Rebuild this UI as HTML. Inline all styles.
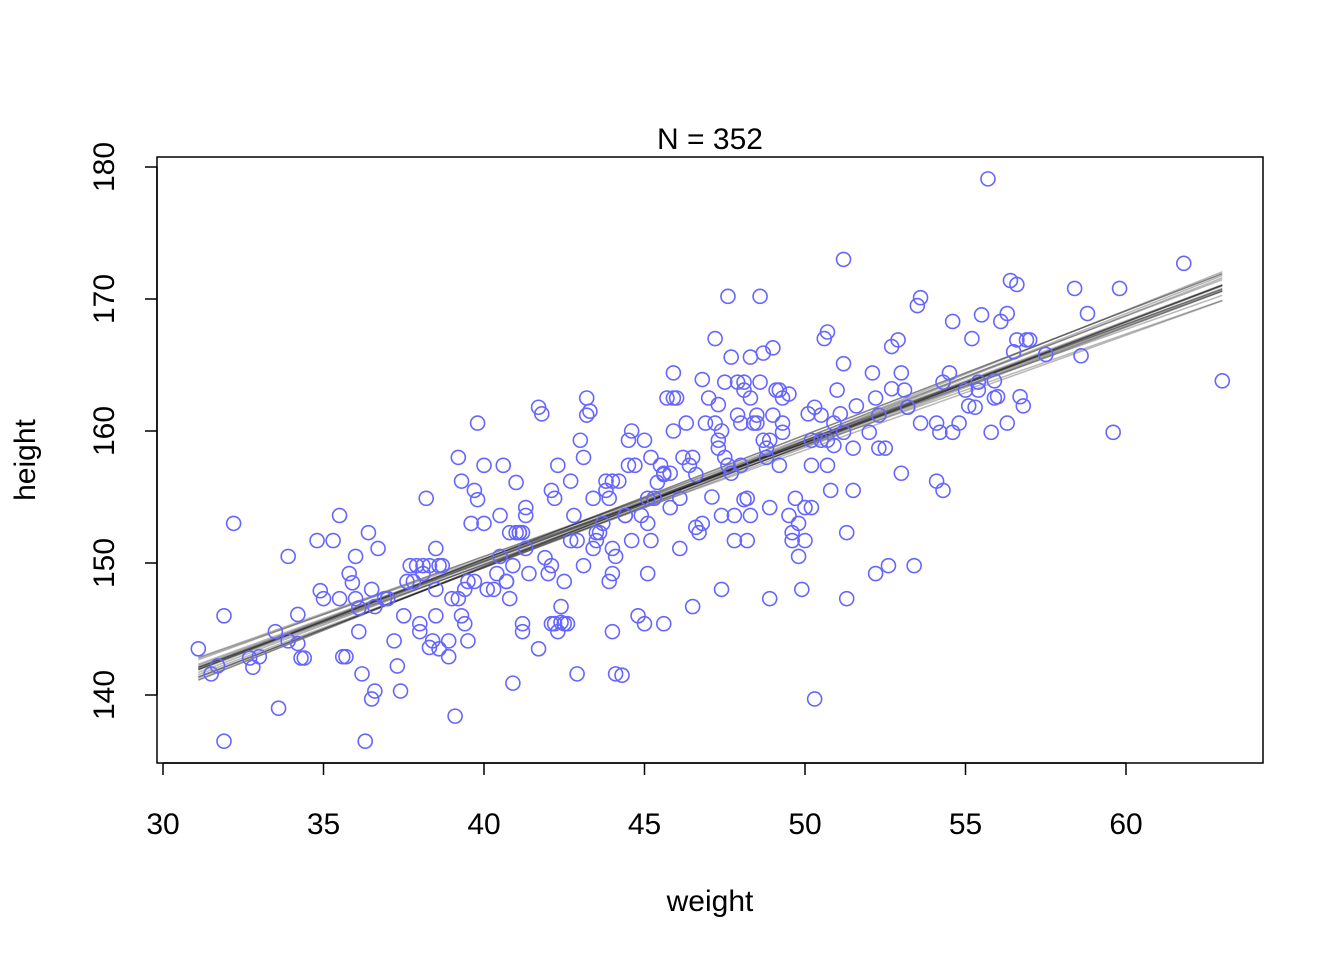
<!DOCTYPE html>
<html><head><meta charset="utf-8"><style>
html,body{margin:0;padding:0;background:#fff;}
svg{display:block;font-family:"Liberation Sans",Arial,sans-serif;}
</style></head><body>
<svg id="chart" width="1344" height="960" viewBox="0 0 1344 960" xmlns="http://www.w3.org/2000/svg">
<rect x="0" y="0" width="1344" height="960" fill="#fff"/>
<text x="710" y="149" font-size="30" text-anchor="middle">N = 352</text>
<text x="710" y="911" font-size="30" text-anchor="middle">weight</text>
<text x="0" y="0" font-size="30" text-anchor="middle" transform="translate(35,460) rotate(-90)">height</text>
<g id="lines"></g>
<g id="points"></g>
<g id="xaxis"></g>
<g id="yaxis"></g>
<rect x="157" y="157" width="1106" height="606" fill="none" stroke="#000" stroke-width="1.5"/>
</svg>
<script>
const xTicks=[30,35,40,45,50,55,60];
const yTicks=[140,150,160,170,180];
const weights=[31.1,31.5,31.7,31.9,31.9,32.2,32.7,32.8,33.0,33.5,33.6,33.9,33.9,34.2,34.2,34.3,34.4,34.8,34.9,35.0,35.3,35.5,35.5,35.6,35.7,35.8,35.9,36.0,36.0,36.1,36.1,36.2,36.3,36.4,36.5,36.5,36.6,36.6,36.7,36.9,37.0,37.2,37.3,37.4,37.6,37.5,37.7,37.8,37.9,38.0,38.0,38.1,38.1,38.2,38.3,38.3,38.4,38.5,38.5,38.5,38.6,38.6,38.7,38.9,38.9,39.0,39.1,39.2,39.2,39.3,39.3,39.4,39.4,39.5,39.5,39.6,39.7,39.7,39.8,39.8,40.0,40.0,40.1,40.3,40.4,40.5,40.5,40.6,40.7,40.7,40.8,40.8,40.9,40.9,41.0,41.0,41.1,41.1,41.2,41.2,41.2,41.3,41.3,41.3,41.4,41.7,41.7,41.8,41.9,42.0,42.1,42.1,42.1,42.2,42.2,42.3,42.3,42.4,42.4,42.5,42.5,42.6,42.7,42.7,42.8,42.9,42.9,43.0,43.1,43.1,43.2,43.2,43.3,43.4,43.4,43.5,43.5,43.6,43.7,43.8,43.8,43.9,43.9,44.0,44.0,44.0,44.0,44.1,44.1,44.2,44.3,44.4,44.4,44.5,44.5,44.6,44.6,44.7,44.8,44.9,45.0,45.0,45.1,45.1,45.1,45.2,45.2,45.3,45.4,45.5,45.6,45.6,45.6,45.7,45.8,45.8,45.9,45.9,45.9,46.0,46.1,46.1,46.2,46.3,46.4,46.5,46.5,46.6,46.6,46.7,46.8,46.8,46.9,47.0,47.1,47.2,47.2,47.3,47.3,47.3,47.4,47.4,47.4,47.5,47.5,47.6,47.6,47.7,47.7,47.8,47.8,47.9,47.9,48.0,48.0,48.1,48.1,48.1,48.2,48.2,48.3,48.3,48.3,48.4,48.5,48.5,48.6,48.6,48.7,48.7,48.8,48.8,48.9,48.9,48.9,49.0,49.0,49.1,49.2,49.2,49.3,49.3,49.3,49.5,49.5,49.6,49.6,49.7,49.8,49.8,49.9,50.0,50.0,50.1,50.2,50.2,50.2,50.3,50.3,50.5,50.5,50.6,50.7,50.7,50.7,50.8,50.9,50.9,51.0,51.1,51.2,51.2,51.2,51.3,51.3,51.5,51.5,51.6,52.0,52.1,52.2,52.2,52.3,52.3,52.5,52.6,52.7,52.7,52.9,53.0,53.0,53.1,53.2,53.2,53.4,53.5,53.6,53.6,54.1,54.1,54.2,54.3,54.3,54.5,54.6,54.6,54.8,55.0,55.1,55.2,55.3,55.4,55.4,55.5,55.7,55.8,55.9,55.9,56.0,56.1,56.3,56.3,56.4,56.5,56.6,56.6,56.7,56.8,56.9,57.0,57.5,58.4,58.6,58.8,59.6,59.8,61.8,63.0];
const heights=[143.5,141.6,142.2,146.0,136.5,153.0,142.8,142.1,142.9,144.8,139.0,150.5,144.1,143.9,146.1,142.8,142.8,151.7,147.9,147.3,151.7,153.6,147.3,142.9,142.9,149.2,148.5,150.5,147.3,144.8,146.6,141.6,136.5,152.3,148.0,139.7,146.7,140.3,151.1,147.3,147.3,144.1,142.2,140.3,148.6,146.0,149.8,148.6,149.8,145.4,144.8,149.8,149.2,154.9,149.8,143.6,144.1,146.0,148.0,151.1,143.5,149.8,149.8,142.9,144.1,147.3,138.4,147.3,158.0,156.2,146.0,148.0,145.4,144.1,148.6,153.0,148.6,155.5,160.6,154.8,153.0,157.4,148.0,148.0,149.2,153.6,150.5,157.4,148.6,148.6,152.3,147.3,149.8,140.9,152.3,156.1,152.3,152.3,144.8,152.3,145.4,151.1,154.2,153.6,149.2,143.5,161.8,161.3,150.4,149.2,155.5,145.4,149.8,154.9,145.4,144.8,157.4,146.7,145.5,145.4,148.6,145.4,156.2,151.7,153.6,151.7,141.6,159.3,149.8,158.0,162.5,161.2,161.5,154.9,151.1,152.3,151.7,152.3,153.0,155.5,156.2,148.6,154.9,149.2,144.8,151.1,156.2,150.5,141.6,156.2,141.5,153.6,153.6,159.3,157.4,151.7,160.0,157.4,146.0,153.6,145.4,159.3,149.2,154.9,153.0,158.0,151.7,154.9,156.1,157.4,156.8,156.7,145.4,162.5,154.2,156.8,164.4,162.5,160.0,162.5,151.1,154.9,158.0,160.6,157.4,158.0,146.7,152.7,156.7,152.3,163.9,153.0,160.6,162.5,155.0,167.0,160.6,159.3,162.0,158.7,153.6,148.0,160.0,163.7,158.0,170.2,157.4,156.8,165.6,151.7,153.6,163.7,161.2,157.4,160.6,163.7,163.1,154.8,151.7,154.9,153.6,165.6,162.5,160.6,161.2,160.6,170.2,163.7,165.9,159.3,158.0,158.7,159.3,147.3,154.2,166.3,161.2,163.1,163.1,157.4,159.9,160.6,162.5,162.8,153.6,151.7,152.3,154.9,153.0,150.5,148.0,154.2,151.7,161.3,157.4,159.3,154.2,161.8,139.7,161.2,159.3,167.0,167.5,159.3,157.4,155.5,158.9,160.6,163.1,161.3,159.9,165.1,173.0,152.3,147.3,155.5,158.7,161.9,159.9,164.4,162.5,149.2,158.7,161.2,158.7,149.8,166.4,163.2,166.9,164.4,156.8,163.1,161.8,161.8,149.8,169.5,170.1,160.6,156.2,160.6,159.9,163.7,155.5,164.4,168.3,159.9,160.6,163.1,161.9,167.0,161.8,163.1,163.7,168.8,179.1,159.9,162.5,163.8,162.6,168.3,160.6,168.9,171.4,166.0,171.1,166.9,162.6,161.9,166.9,166.9,165.8,170.8,165.7,168.9,159.9,170.8,172.7,163.8];
const lineIntercepts=[154.6,154.3,154.9,154.5,154.7,154.2,155.0,154.6,154.4,154.8,154.3,154.6,154.9,154.5,154.6,154.2,154.7,154.5,154.6,155.0];
const lineSlopes=[0.90,0.93,0.88,0.95,0.91,0.87,0.94,0.97,0.90,0.86,0.93,0.91,0.92,0.96,0.89,0.91,0.89,0.92,0.85,0.94];
const xBar=45;
const NS='http://www.w3.org/2000/svg';
const X=v=>163+(v-30)*(1126-163)/30;
const Y=v=>695-(v-140)*(695-167)/40;
function mk(tag,attrs,parent){const e=document.createElementNS(NS,tag);for(const k in attrs)e.setAttribute(k,attrs[k]);parent.appendChild(e);return e;}
const gx=document.getElementById('xaxis'),gy=document.getElementById('yaxis'),gl=document.getElementById('lines'),gp=document.getElementById('points');
const xl=mk('line',{x1:X(xTicks[0]),x2:X(xTicks[xTicks.length-1]),y1:763,y2:763,stroke:'#000','stroke-width':1.5},gx);


xTicks.forEach(t=>{
  const tk=mk('line',{x1:X(t),x2:X(t),y1:763,y2:775,stroke:'#000','stroke-width':1.5},gx);
  
  
  const tx=mk('text',{x:X(t),y:834,'font-size':30,'text-anchor':'middle'},gx);tx.textContent=t;
  
  
});
const yl=mk('line',{x1:157,x2:157,y1:Y(yTicks[0]),y2:Y(yTicks[yTicks.length-1]),stroke:'#000','stroke-width':1.5},gy);


yTicks.forEach(t=>{
  const tk=mk('line',{x1:145,x2:157,y1:Y(t),y2:Y(t),stroke:'#000','stroke-width':1.5},gy);
  
  
  const tx=mk('text',{x:0,y:0,'font-size':30,'text-anchor':'middle',transform:`translate(114,${Y(t)}) rotate(-90)`},gy);tx.textContent=t;
  
  
});
const wMin=Math.min(...weights),wMax=Math.max(...weights);
lineIntercepts.forEach((a,i)=>{
  const b=lineSlopes[i];
  const ln=mk('line',{x1:X(wMin),y1:Y(a+b*(wMin-xBar)),x2:X(wMax),y2:Y(a+b*(wMax-xBar)),stroke:'rgba(0,0,0,0.28)','stroke-width':1.5},gl);
  
  
});
weights.forEach((w,i)=>{
  const c=mk('circle',{cx:X(w),cy:Y(heights[i]),r:7,fill:'none',stroke:'rgb(102,102,255)','stroke-width':1.6},gp);
  
  
});
</script>
</body></html>
